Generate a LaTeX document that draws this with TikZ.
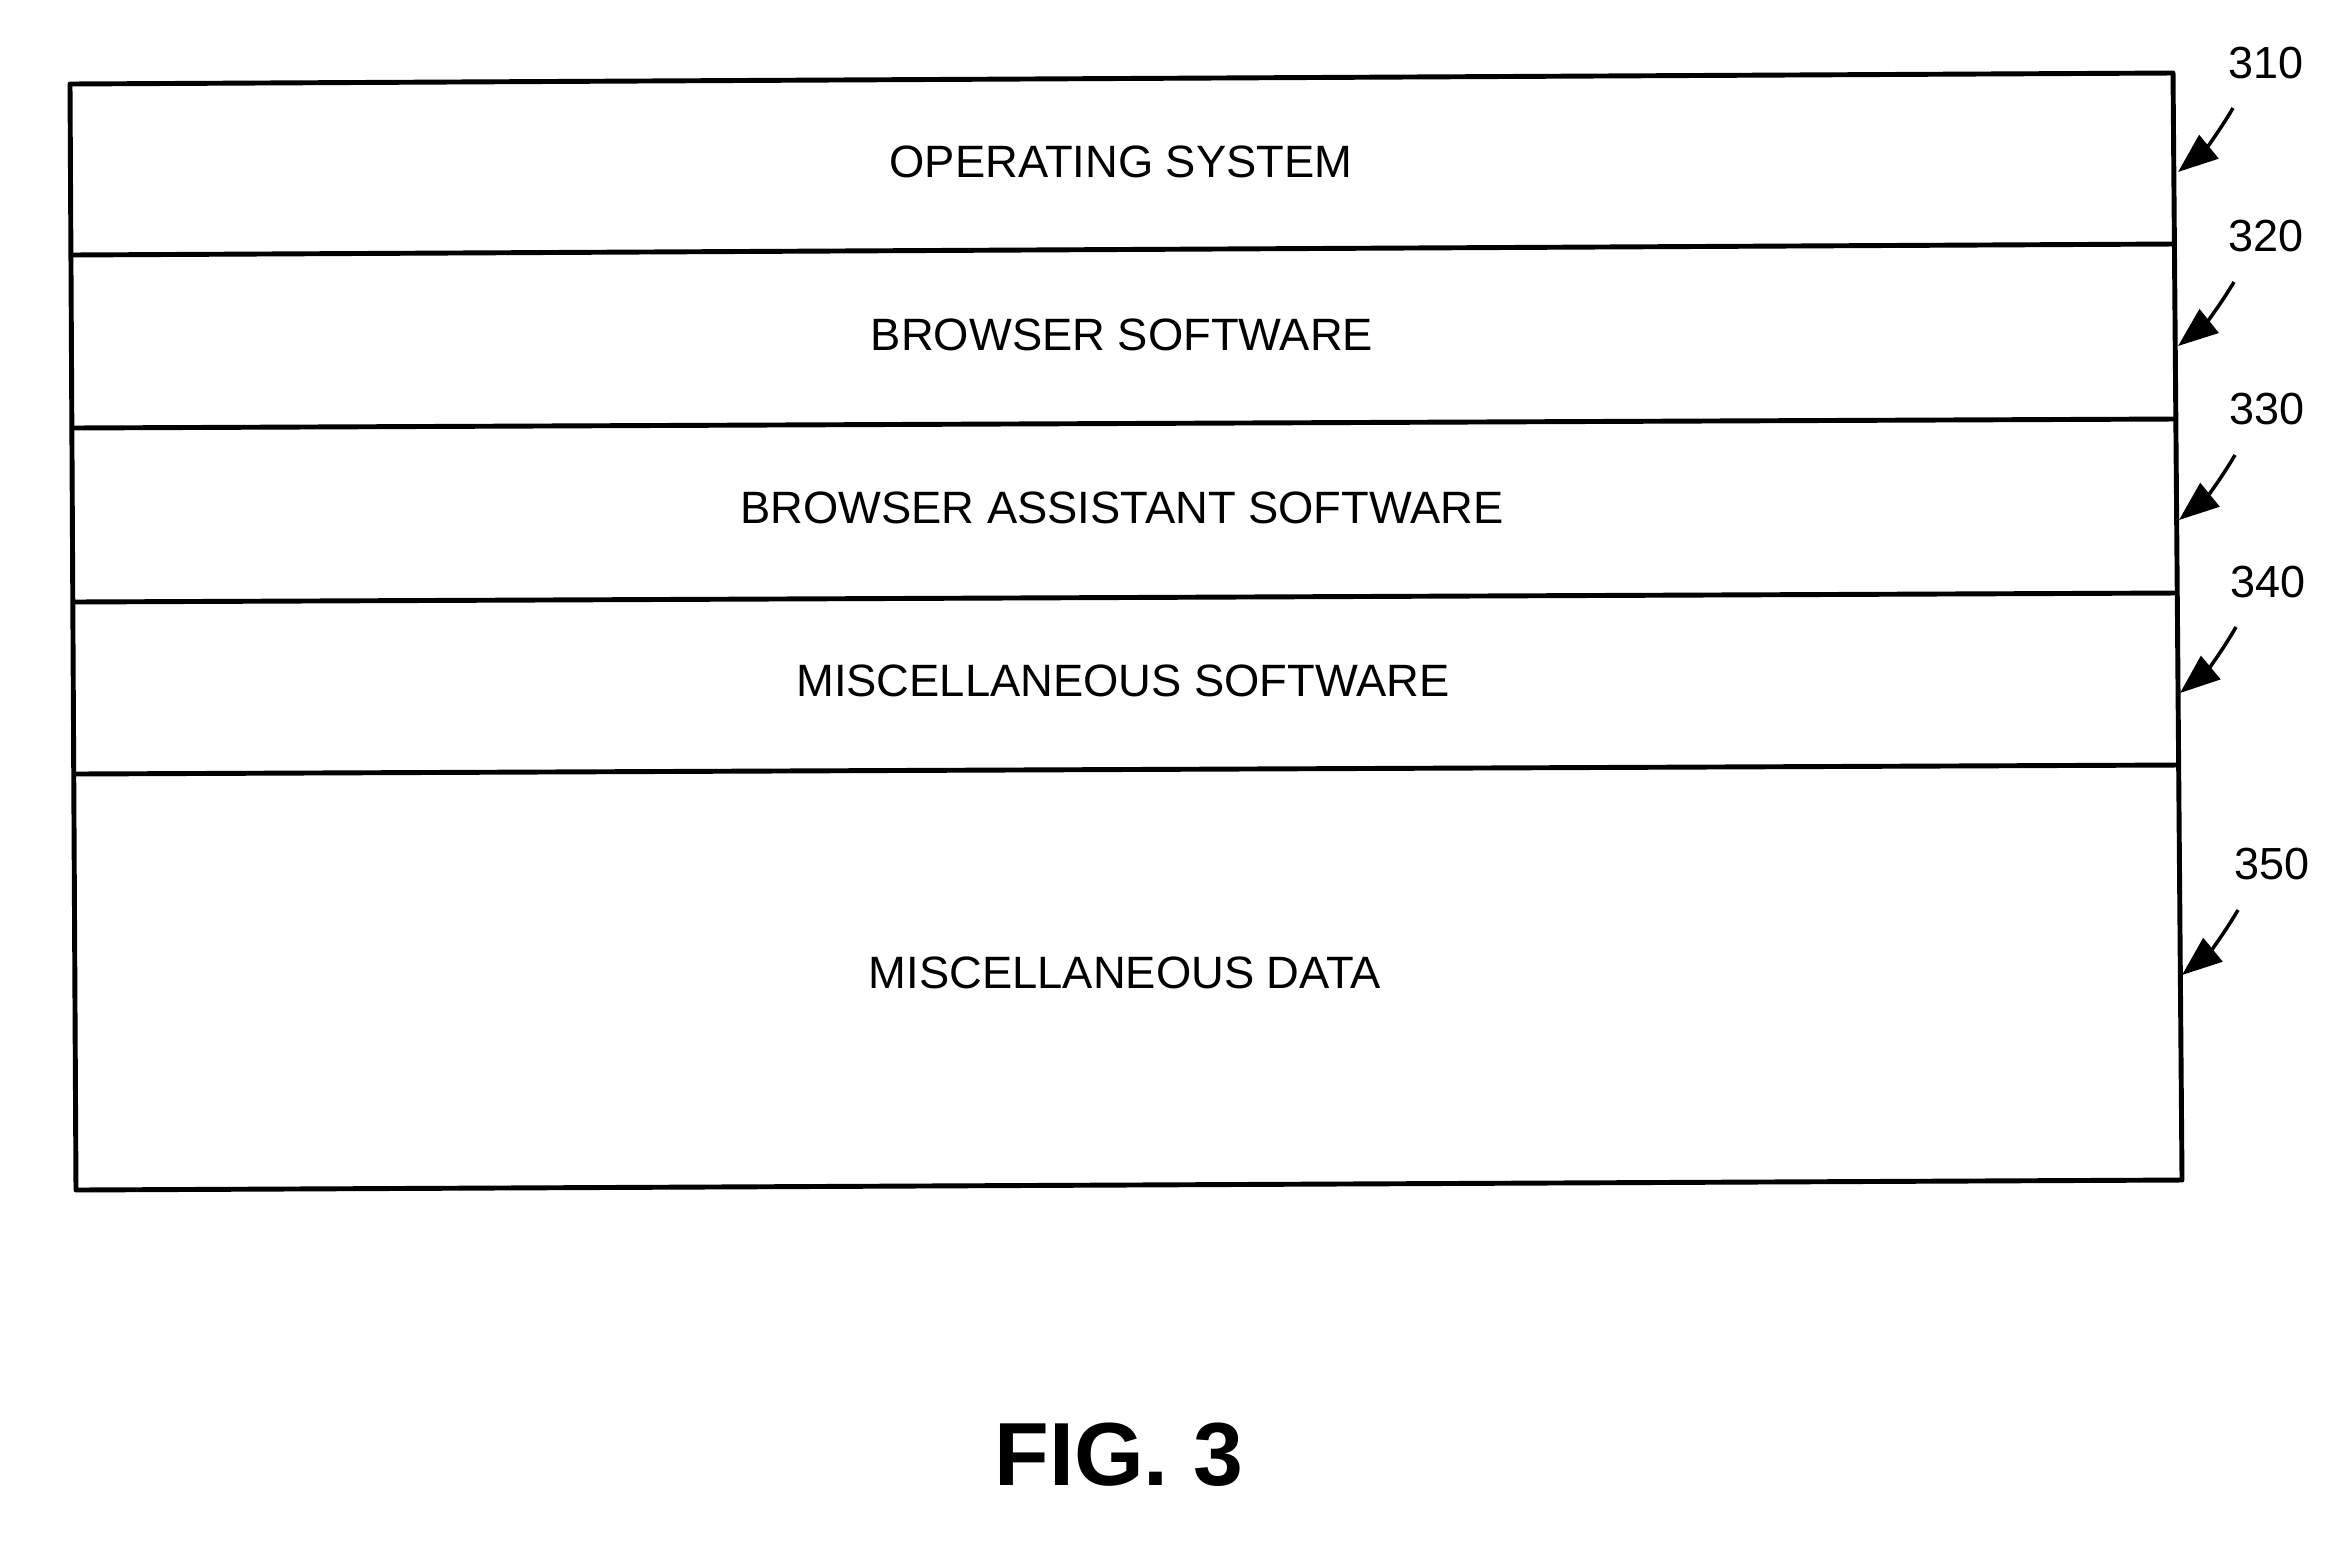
\documentclass[tikz,border=0pt]{standalone}
\usepackage{fontspec}
\setmainfont{Liberation Sans}
\usetikzlibrary{arrows.meta}
\begin{document}
\begin{tikzpicture}[x=0.1mm,y=-0.1mm,
  layerline/.style={line width=1.4pt,line join=round},
  layertext/.style={font=\fontsize{12.9pt}{14pt}\selectfont,inner sep=0pt},
  refnum/.style={font=\fontsize{12.8pt}{14pt}\selectfont,inner sep=0pt},
  refarrow/.style={line width=1pt,-{Triangle[length=4mm,width=3mm]},bend left=10},
  figlabel/.style={font=\fontsize{25.5pt}{28pt}\selectfont\bfseries,inner sep=0pt}]
\useasboundingbox (0,0) rectangle (2348,1548);
% corners and dividers
\coordinate (l0) at (70,84);   \coordinate (r0) at (2173,73);
\coordinate (l1) at (71,255);  \coordinate (r1) at (2174,244);
\coordinate (l2) at (72,428);  \coordinate (r2) at (2175,419);
\coordinate (l3) at (73,602);  \coordinate (r3) at (2176,593);
\coordinate (l4) at (75,774);  \coordinate (r4) at (2179,765);
\coordinate (l5) at (76,1190); \coordinate (r5) at (2182,1180);
\draw[layerline] (l0) -- (r0) -- (r5) -- (l5) -- cycle;
\draw[layerline] (l1) -- (r1);
\draw[layerline] (l2) -- (r2);
\draw[layerline] (l3) -- (r3);
\draw[layerline] (l4) -- (r4);
% layer texts
\node[layertext] (os) at (1121,162) {OPERATING SYSTEM};
\node[layertext] (bs) at (1122,335) {BROWSER SOFTWARE};
\node[layertext] (bas) at (1122,508) {BROWSER ASSISTANT SOFTWARE};
\node[layertext] (ms) at (1123,681) {MISCELLANEOUS SOFTWARE};
\node[layertext] (md) at (1125,973) {MISCELLANEOUS DATA};
% reference numerals
\node[refnum] (n310) at (2266,63) {310};
\node[refnum] (n320) at (2266,236) {320};
\node[refnum] (n330) at (2267,409) {330};
\node[refnum] (n340) at (2268,582) {340};
\node[refnum] (n350) at (2272,864) {350};
% arrow ends
\coordinate (s310) at (2233,108); \coordinate (t310) at (2178,172);
\coordinate (s320) at (2234,282); \coordinate (t320) at (2178,346);
\coordinate (s330) at (2235,455); \coordinate (t330) at (2179,520);
\coordinate (s340) at (2236,627); \coordinate (t340) at (2180,693);
\coordinate (s350) at (2238,910); \coordinate (t350) at (2182,975);
\draw[refarrow] (s310) to (t310);
\draw[refarrow] (s320) to (t320);
\draw[refarrow] (s330) to (t330);
\draw[refarrow] (s340) to (t340);
\draw[refarrow] (s350) to (t350);
\node[figlabel] (fig) at (1119,1455) {FIG. 3};
\end{tikzpicture}
\end{document}
